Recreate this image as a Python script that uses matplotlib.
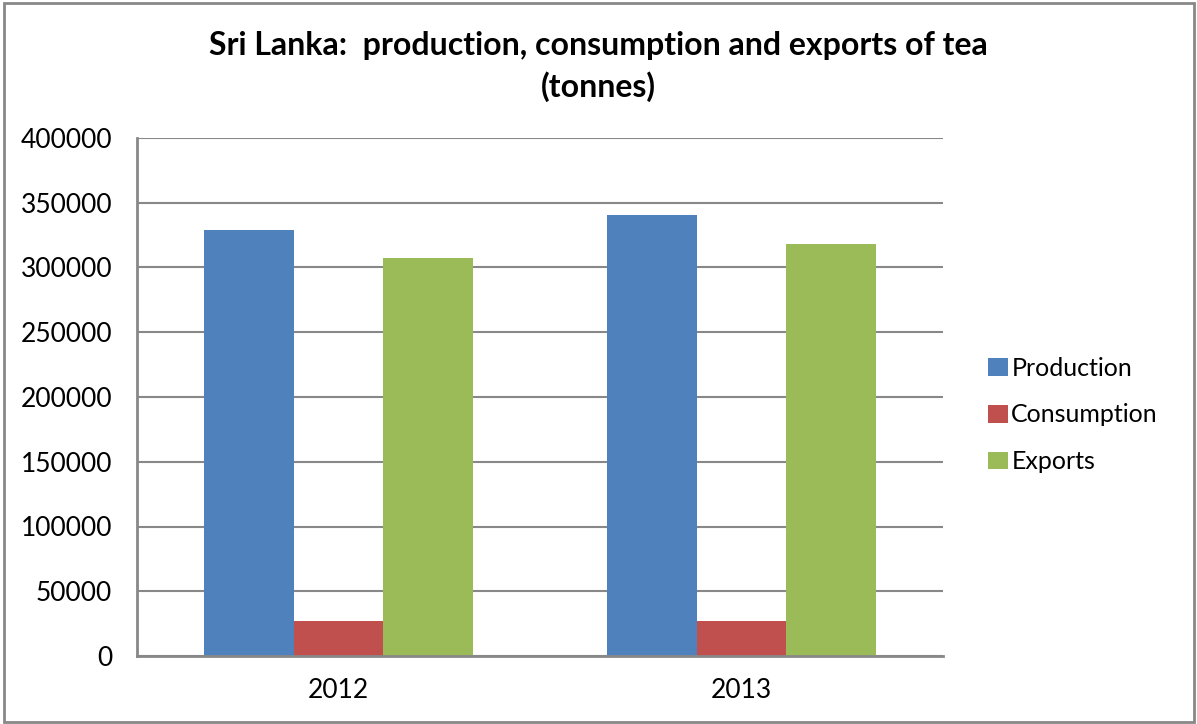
import matplotlib.pyplot as plt
import matplotlib.patches as mpatches
import numpy as np

plt.rcParams['font.family'] = ['Lato', 'DejaVu Sans']

years = ["2012", "2013"]
series = ["Production", "Consumption", "Exports"]
production = [328600, 340200]
consumption = [27300, 27300]
exports = [307000, 318000]
colors = ["#4f81bd", "#c0504d", "#9bbb59"]

fig = plt.figure(figsize=(11.97, 7.24), dpi=100)
ax = fig.add_axes([137 / 1197, 1 - 656 / 724, (943 - 137) / 1197, (656 - 138) / 724])

# outer chart border
fig.patches.append(mpatches.Rectangle((4 / 1197, 2 / 724), 1190 / 1197, 719 / 724,
                                      transform=fig.transFigure, fill=False,
                                      ec="#888888", lw=2))

x = np.arange(len(years))
w = 1 / 4.5  # Excel gap width 150%
for i, (vals, name) in enumerate(zip([production, consumption, exports], series)):
    ax.bar(x + (i - 1) * w, vals, width=w, color=colors[i], label=name, zorder=3)

ax.set_xlim(-0.5, 1.5)
ax.set_ylim(0, 400000)
ax.set_yticks(np.arange(0, 400001, 50000))
ax.set_xticks(x)
ax.set_xticklabels(years)
ax.grid(axis="y", color="#888888", lw=1.5, zorder=0)
ax.tick_params(axis="both", length=0, labelsize=19)
ax.tick_params(axis="y", pad=18)
ax.tick_params(axis="x", pad=16, labelsize=19)
for s in ["top", "right"]:
    ax.spines[s].set_visible(False)
for s in ["left", "bottom"]:
    ax.spines[s].set_color("#888888")
    ax.spines[s].set_linewidth(2)
    ax.spines[s].set_zorder(4)

fig.text(0.5, 1 - 45 / 724, "Sri Lanka:  production, consumption and exports of tea",
         ha="center", va="center", fontsize=23, fontweight="bold")
fig.text(0.5, 1 - 87 / 724, "(tonnes)", ha="center", va="center",
         fontsize=23, fontweight="bold")

leg = fig.legend(loc="center left", bbox_to_anchor=(965 / 1197, 1 - 415 / 724),
                 frameon=False, fontsize=18, handlelength=0.8, handleheight=0.7,
                 handletextpad=0.15, labelspacing=0.95)

fig.savefig("out.png", dpi=100)
